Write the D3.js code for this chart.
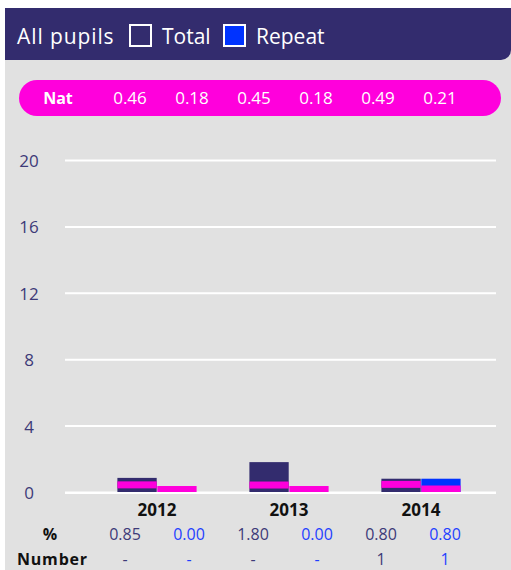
<!DOCTYPE html>
<html>
<head>
<meta charset="utf-8">
<script src="https://cdn.jsdelivr.net/npm/d3@7"></script>
<style>
    body { margin: 0; background: #ffffff; }
    svg { display: block; font-family: "Open Sans", "Noto Sans", sans-serif; }
</style>
</head>
<body>
<div id="chart"></div>
<script>
// 数据
const years = ["2012", "2013", "2014"];
const seriesKeys = ["total", "repeat"];
const totalPct = [0.85, 1.80, 0.80];
const repeatPct = [0.00, 0.00, 0.80];
const natTotal = [0.46, 0.45, 0.49];
const natRepeat = [0.18, 0.18, 0.21];
const totalNumber = ["-", "-", "1"];
const repeatNumber = ["-", "-", "1"];
const yTicks = [0, 4, 8, 12, 16, 20];

const W = 511, H = 570;
const navy = "#332c6e";
const blue = "#0033ff";
const pink = "#ff00dc";
const grey = "#e1e1e1";

const svg = d3.select("#chart")
    .append("svg")
    .attr("width", W)
    .attr("height", H);

// 灰色背景
svg.append("rect")
    .attr("x", 5).attr("y", 8)
    .attr("width", W - 5).attr("height", H - 8)
    .attr("fill", grey);

// 标题栏
svg.append("path")
    .attr("d", `M5,8 H${W} V50 A10,10 0 0 1 ${W - 10},60 H5 Z`)
    .attr("fill", navy);

svg.append("text")
    .attr("x", 17).attr("y", 44)
    .attr("fill", "#fff")
    .attr("font-size", 21)
    .attr("letter-spacing", 0.9)
    .text("All pupils");

// 图例
const legendItems = [
    { label: "Total", color: navy, x: 130 },
    { label: "Repeat", color: blue, x: 224 }
];
legendItems.forEach(d => {
    svg.append("rect")
        .attr("x", d.x).attr("y", 25)
        .attr("width", 21).attr("height", 21)
        .attr("fill", d.color)
        .attr("stroke", "#fff")
        .attr("stroke-width", 2);
    svg.append("text")
        .attr("x", d.x + 32).attr("y", 44)
        .attr("fill", "#fff")
        .attr("font-size", 21)
        .text(d.label);
});

// 全国平均值条
svg.append("rect")
    .attr("x", 19).attr("y", 80)
    .attr("width", 482).attr("height", 36)
    .attr("rx", 18)
    .attr("fill", pink);

svg.append("text")
    .attr("x", 58).attr("y", 104)
    .attr("text-anchor", "middle")
    .attr("fill", "#fff")
    .attr("font-size", 16)
    .attr("font-weight", "bold")
    .text("Nat");

const natValues = years.flatMap((y, i) => [natTotal[i], natRepeat[i]]);
const natCol = d3.scalePoint()
    .domain(d3.range(natValues.length))
    .range([130, 440]);

svg.selectAll(".nat-val")
    .data(natValues)
    .enter()
    .append("text")
    .attr("class", "nat-val")
    .attr("x", (d, i) => natCol(i))
    .attr("y", 104)
    .attr("text-anchor", "middle")
    .attr("fill", "#fff")
    .attr("font-size", 17)
    .text(d => d.toFixed(2));

// 比例尺
const y = d3.scaleLinear().domain([0, 20]).range([492, 160]);
const x = d3.scaleBand()
    .domain(years)
    .range([91, 487])
    .paddingInner(0.4)
    .paddingOuter(0.2);
const xSub = d3.scaleBand()
    .domain(seriesKeys)
    .range([0, x.bandwidth()])
    .paddingInner(0.015);

// 网格线
svg.append("g")
    .selectAll("line")
    .data(yTicks)
    .enter()
    .append("line")
    .attr("x1", 65).attr("x2", 496)
    .attr("y1", d => y(d) + 0.5)
    .attr("y2", d => y(d) + 0.5)
    .attr("stroke", "#fff")
    .attr("stroke-width", 2);

// Y 轴标签
svg.append("g")
    .selectAll("text")
    .data(yTicks)
    .enter()
    .append("text")
    .attr("x", 29)
    .attr("y", d => y(d) + 1)
    .attr("dy", "0.35em")
    .attr("text-anchor", "middle")
    .attr("fill", "#3d3a78")
    .attr("font-size", 17)
    .text(d => d);

// 柱子
const barData = years.flatMap((yr, i) => [
    { year: yr, key: "total", value: totalPct[i], nat: natTotal[i], color: navy },
    { year: yr, key: "repeat", value: repeatPct[i], nat: natRepeat[i], color: blue }
]);

svg.append("g")
    .selectAll("rect")
    .data(barData.filter(d => d.value > 0))
    .enter()
    .append("rect")
    .attr("x", d => x(d.year) + xSub(d.key))
    .attr("y", d => y(d.value))
    .attr("width", xSub.bandwidth())
    .attr("height", d => y(0) - y(d.value))
    .attr("fill", d => d.color);

// 全国平均标记
svg.append("g")
    .selectAll("rect")
    .data(barData)
    .enter()
    .append("rect")
    .attr("x", d => x(d.year) + xSub(d.key))
    .attr("y", d => y(d.nat) - 3)
    .attr("width", xSub.bandwidth())
    .attr("height", 7)
    .attr("fill", pink);

// 零线
svg.append("line")
    .attr("x1", 65).attr("x2", 496)
    .attr("y1", y(0) + 1).attr("y2", y(0) + 1)
    .attr("stroke", "#fff")
    .attr("stroke-width", 2);

// X 轴年份
svg.append("g")
    .selectAll("text")
    .data(years)
    .enter()
    .append("text")
    .attr("x", d => x(d) + x.bandwidth() / 2)
    .attr("y", 516)
    .attr("text-anchor", "middle")
    .attr("fill", "#111")
    .attr("font-size", 17)
    .attr("font-weight", "bold")
    .text(d => d);

// 表格
const tableCol = d3.scalePoint()
    .domain(d3.range(years.length * 2))
    .range([125, 445]);

const pctCells = years.flatMap((yr, i) => [
    { text: totalPct[i].toFixed(2), color: "#3d3a78" },
    { text: repeatPct[i].toFixed(2), color: "#1f3fff" }
]);
const numCells = years.flatMap((yr, i) => [
    { text: totalNumber[i], color: "#3d3a78" },
    { text: repeatNumber[i], color: "#1f3fff" }
]);

svg.append("text")
    .attr("x", 50).attr("y", 540)
    .attr("text-anchor", "middle")
    .attr("fill", "#111")
    .attr("font-size", 16)
    .attr("font-weight", "bold")
    .text("%");

svg.append("text")
    .attr("x", 17).attr("y", 565)
    .attr("fill", "#111")
    .attr("font-size", 16)
    .attr("font-weight", "bold")
    .attr("letter-spacing", 0.8)
    .text("Number");

[[pctCells, 540], [numCells, 565]].forEach(([cells, yPos]) => {
    svg.append("g")
        .selectAll("text")
        .data(cells)
        .enter()
        .append("text")
        .attr("x", (d, i) => tableCol(i))
        .attr("y", yPos)
        .attr("text-anchor", "middle")
        .attr("fill", d => d.color)
        .attr("font-size", 16)
        .text(d => d.text);
});
</script>
</body>
</html>
